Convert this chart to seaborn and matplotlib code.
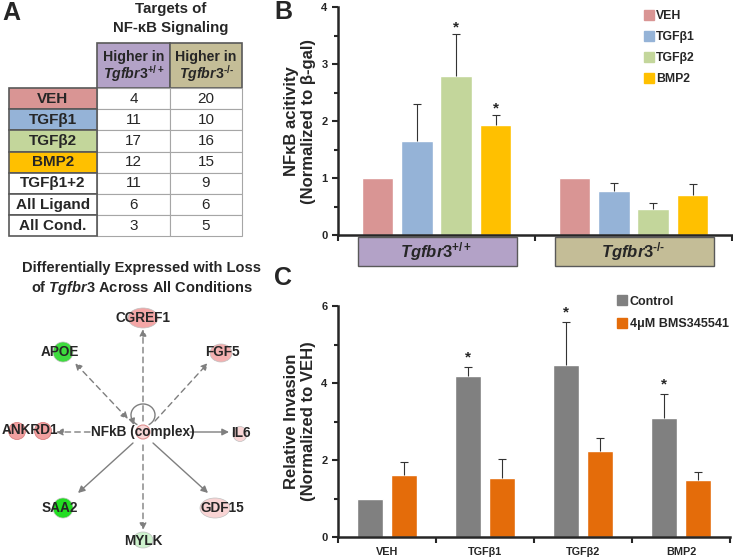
import matplotlib
matplotlib.use('Agg')
import matplotlib.pyplot as plt
from matplotlib.patches import Rectangle, Ellipse, Circle, Arc
from matplotlib.lines import Line2D
from matplotlib.transforms import blended_transform_factory
import numpy as np
import pandas as pd
import seaborn as sns

# ---- data ----
treatments = ['VEH', 'TGFβ1', 'TGFβ2', 'BMP2']
treatment_colors = ['#D99594', '#95B3D7', '#C3D69B', '#FFC000']
genotype_labels = [r'$\mathit{Tgfbr3}^{+/+}$', r'$\mathit{Tgfbr3}^{\text{-/-}}$']
genotype_colors = ['#B3A2C7', '#C4BD97']

# panel A: table of NF-kB targets
table_rows = ['VEH', 'TGFβ1', 'TGFβ2', 'BMP2', 'TGFβ1+2', 'All Ligand', 'All Cond.']
table_row_colors = treatment_colors + ['white', 'white', 'white']
higher_in_wt = [4, 11, 17, 12, 11, 6, 3]
higher_in_ko = [20, 10, 16, 15, 9, 6, 5]

# panel A: network around NFkB (complex)
network_genes = ['CGREF1', 'APOE', 'FGF5', 'ANKRD1', 'IL6', 'SAA2', 'GDF15', 'MYLK']
network_colors = ['#F4A6A6', '#3EDC3E', '#F4B0B0', '#F2A0A0', '#FAD6D6', '#22DD22', '#F9D4D4', '#CDF2CD']
network_dashed = [True, True, True, True, False, False, False, True]
network_both_ways = [False, True, False, False, False, False, False, False]

# panel B: NFkB reporter activity
nfkb_wt = [1.0, 1.65, 2.79, 1.93]
nfkb_wt_err = [0, 0.65, 0.74, 0.17]
nfkb_ko = [1.0, 0.78, 0.45, 0.70]
nfkb_ko_err = [0, 0.14, 0.11, 0.20]
nfkb_wt_sig = [False, False, True, True]
nfkb_ko_sig = [False, False, False, False]

# panel C: invasion
inv_conditions = ['Control', '4μM BMS345541']
inv_colors = ['#808080', '#E46C0A']
inv_control = [1.0, 4.17, 4.48, 3.10]
inv_control_err = [0, 0.24, 1.11, 0.62]
inv_bms = [1.61, 1.54, 2.24, 1.49]
inv_bms_err = [0.34, 0.49, 0.33, 0.20]
inv_control_sig = [False, True, True, True]
inv_bms_sig = [False, False, False, False]

W, H = 733, 560

sns.set_style('ticks')
plt.rcParams['font.family'] = ['Liberation Sans', 'DejaVu Sans']
plt.rcParams['font.weight'] = 'bold'
plt.rcParams['axes.labelweight'] = 'bold'
plt.rcParams['mathtext.fontset'] = 'custom'
plt.rcParams['mathtext.it'] = 'Liberation Sans:italic:bold'
plt.rcParams['mathtext.rm'] = 'Liberation Sans:bold'
plt.rcParams['mathtext.bf'] = 'Liberation Sans:bold'
plt.rcParams['mathtext.sf'] = 'Liberation Sans:bold'


def fig_rect(x0, y0, x1, y1):
    """pixel box (top-left origin) -> figure fraction rect"""
    return [x0 / W, 1 - y1 / H, (x1 - x0) / W, (y1 - y0) / H]


def add_errors(ax, errs_by_hue, sig_by_hue, star_pad):
    """upper-only error bars + asterisks on top of seaborn bars"""
    for container, errs, sigs in zip(ax.containers, errs_by_hue, sig_by_hue):
        for bar, err, sig in zip(container, errs, sigs):
            cx = bar.get_x() + bar.get_width() / 2
            top = bar.get_height()
            if err > 0:
                ax.vlines(cx, top, top + err, color='#333333', lw=0.8)
                ax.plot(cx, top + err, marker='_', ms=6, mew=0.8, color='#333333')
            if sig:
                ax.annotate('*', xy=(cx, top + err), xytext=(0, star_pad),
                            textcoords='offset points', ha='center', va='baseline',
                            fontsize=11, fontweight='bold')


def style_axis(ax):
    sns.despine(ax=ax)
    for s in ['left', 'bottom']:
        ax.spines[s].set_linewidth(1.8)
    ax.tick_params(which='both', direction='out', width=1.5, labelsize=8)
    ax.tick_params(which='major', length=4)
    ax.tick_params(which='minor', length=3)
    for lab in ax.get_yticklabels() + ax.get_xticklabels():
        lab.set_fontweight('bold')


fig = plt.figure(figsize=(W / 100, H / 100), dpi=100)

# ---- overlay for panel A and letters ----
ov = fig.add_axes([0, 0, 1, 1])
ov.set_xlim(0, W)
ov.set_ylim(H, 0)
ov.axis('off')

ov.text(11, 13, 'A', fontsize=18, fontweight='bold', ha='center', va='center')
ov.text(283, 12, 'B', fontsize=18, fontweight='bold', ha='center', va='center')
ov.text(283, 278, 'C', fontsize=18, fontweight='bold', ha='center', va='center')

ov.text(171, 9, 'Targets of', fontsize=10.8, ha='center', va='center')
ov.text(171, 28, 'NF-κB Signaling', fontsize=10.8, ha='center', va='center')

# table
col_x = [9, 97, 170, 242]
head_top, head_bot, row_h = 43, 88, 21.2
for k in range(2):
    x0, x1 = col_x[k + 1], col_x[k + 2]
    ov.add_patch(Rectangle((x0, head_top), x1 - x0, head_bot - head_top,
                           fc=genotype_colors[k], ec='#595959', lw=1.2))
    ov.text((x0 + x1) / 2, 57, 'Higher in', fontsize=10.2, ha='center', va='center')
    ov.text((x0 + x1) / 2, 74, genotype_labels[k], fontsize=10.2, ha='center', va='center')

for i, (name, c, a, b) in enumerate(zip(table_rows, table_row_colors, higher_in_wt, higher_in_ko)):
    y0 = head_bot + i * row_h
    yc = y0 + row_h / 2
    for k, v in enumerate([a, b]):
        x0, x1 = col_x[k + 1], col_x[k + 2]
        ov.add_patch(Rectangle((x0, y0), x1 - x0, row_h, fc='white', ec='#A6A6A6', lw=0.8))
        ov.text((x0 + x1) / 2, yc, str(v), fontsize=11, fontweight='normal',
                ha='center', va='center')
for i, (name, c) in enumerate(zip(table_rows, table_row_colors)):
    y0 = head_bot + i * row_h
    ov.add_patch(Rectangle((col_x[0], y0), col_x[1] - col_x[0], row_h,
                           fc=c, ec='#595959', lw=1.2))
    ov.text((col_x[0] + col_x[1]) / 2, y0 + row_h / 2, name, fontsize=11,
            ha='center', va='center')

# network
ov.text(142, 268, 'Differentially Expressed with Loss', fontsize=10.5, ha='center', va='center')
ov.text(142, 288, r'of $\mathit{Tgfbr3}$ Across All Conditions', fontsize=10.5,
        ha='center', va='center')

center = (143, 432)
node_pos = [(143, 318), (63, 352), (221, 353), (30, 431), (240, 434),
            (63, 508), (215, 508), (143, 540)]
node_size = [(30, 20), (20, 20), (22, 18), (52, 17), (14, 15), (20, 20), (30, 20), (20, 16)]
label_pos = [(143, 318), (60, 352), (222, 352), (30, 430), (241, 433),
             (60, 508), (222, 508), (143, 541)]
edge_start = [(143, 421), (128, 419), (155, 421), (90, 432), (190, 432),
              (133, 443), (153, 443), (143, 445)]
edge_end = [(143, 329), (75, 363), (208, 363), (56, 432), (229, 432),
            (78, 493), (208, 493), (143, 530)]

for gene, col, pos, size in zip(network_genes, network_colors, node_pos, node_size):
    if gene == 'ANKRD1':
        r = size[1] / 2
        for dx in (-13, 13):
            ov.add_patch(Circle((pos[0] + dx, pos[1]), r, fc=col, ec='#D98080', lw=0.6))
    else:
        ov.add_patch(Ellipse(pos, size[0], size[1], fc=col, ec='#C0C0C0', lw=0.5))

for st, en, dashed, both in zip(edge_start, edge_end, network_dashed, network_both_ways):
    style = '<|-|>' if both else '-|>'
    ov.annotate('', xy=en, xytext=st,
                arrowprops=dict(arrowstyle=style, color='#7F7F7F', lw=1.0,
                                linestyle=(0, (4, 3)) if dashed else '-',
                                mutation_scale=10, shrinkA=0, shrinkB=0))

ov.add_patch(Arc((143, 415), 24, 22, theta1=120, theta2=60, color='#7F7F7F', lw=1.0))
ov.annotate('', xy=(134, 425), xytext=(132, 419),
            arrowprops=dict(arrowstyle='-|>', color='#7F7F7F', lw=1.0,
                            mutation_scale=9, shrinkA=0, shrinkB=0))
ov.add_patch(Circle(center, 7, fc='#F8D8D8', ec='#E09090', lw=0.8))
ov.text(center[0], center[1], 'NFkB (complex)', fontsize=9.8, ha='center', va='center')

for gene, pos in zip(network_genes, label_pos):
    ov.text(pos[0], pos[1], gene, fontsize=9.8, ha='center', va='center')

# ---- panel B ----
axB = fig.add_axes(fig_rect(338, 7, 732, 235))
df_b = pd.DataFrame({
    'genotype': np.repeat(['wt', 'ko'], len(treatments)),
    'treatment': treatments * 2,
    'value': nfkb_wt + nfkb_ko,
})
sns.barplot(data=df_b, x='genotype', y='value', hue='treatment', hue_order=treatments,
            palette=treatment_colors, width=0.8, gap=0.2, errorbar=None,
            saturation=1, legend=False, ax=axB)
err_b = [[w, k] for w, k in zip(nfkb_wt_err, nfkb_ko_err)]
sig_b = [[w, k] for w, k in zip(nfkb_wt_sig, nfkb_ko_sig)]
add_errors(axB, err_b, sig_b, 2)
axB.set_xlim(-0.5, 1.5)
axB.set_ylim(0, 4)
axB.set_yticks([0, 1, 2, 3, 4])
axB.set_yticks(np.arange(0.5, 4, 1), minor=True)
axB.set_xticks([-0.5, 0.5, 1.5])
axB.set_xticklabels([])
axB.set_xlabel('')
axB.set_ylabel('NFκB acitivity\n(Normalized to β-gal)', fontsize=12, labelpad=4,
               linespacing=1.15)
style_axis(axB)

trans = blended_transform_factory(axB.transData, axB.transAxes)
for g, (lab, col) in enumerate(zip(genotype_labels, genotype_colors)):
    axB.add_patch(Rectangle((g - 0.4, -0.136), 0.81, 0.126, transform=trans,
                            fc=col, ec='#595959', lw=1.0, clip_on=False))
    axB.text(g, -0.073, lab, transform=trans, fontsize=12, ha='center', va='center')

handles_b = [Line2D([], [], marker='s', ls='', color=c, markersize=6.5) for c in treatment_colors]
axB.legend(handles_b, treatments, loc='upper left', bbox_to_anchor=(0.78, 0.985),
           frameon=False, fontsize=8.8, handlelength=0.6, handletextpad=0.3,
           labelspacing=0.72, borderpad=0, borderaxespad=0)

# ---- panel C ----
axC = fig.add_axes(fig_rect(338, 306, 730, 537))
df_c = pd.DataFrame({
    'treatment': treatments * 2,
    'condition': np.repeat(inv_conditions, len(treatments)),
    'value': inv_control + inv_bms,
})
sns.barplot(data=df_c, x='treatment', y='value', hue='condition', hue_order=inv_conditions,
            palette=inv_colors, width=0.68, gap=0.22, errorbar=None,
            saturation=1, legend=False, ax=axC)
add_errors(axC, [inv_control_err, inv_bms_err], [inv_control_sig, inv_bms_sig], 4)
axC.set_xlim(-0.5, 3.5)
axC.set_ylim(0, 6)
axC.set_yticks([0, 2, 4, 6])
axC.set_yticks([1, 3, 5], minor=True)
axC.set_xticks(range(len(treatments)))
axC.set_xticklabels(treatments)
axC.set_xticks(np.arange(-0.5, 4, 1), minor=True)
axC.set_xlabel('')
axC.set_ylabel('Relative Invasion\n(Normalized to VEH)', fontsize=12, labelpad=4,
               linespacing=1.15)
style_axis(axC)
axC.tick_params(axis='x', which='major', length=0, pad=7, labelsize=7.8)
axC.tick_params(axis='x', which='minor', length=4, width=1.5)

handles_c = [Line2D([], [], marker='s', ls='', color=c, markersize=6.5) for c in inv_colors]
axC.legend(handles_c, inv_conditions, loc='upper left', bbox_to_anchor=(0.715, 1.045),
           frameon=False, fontsize=9, handlelength=0.6, handletextpad=0.3,
           labelspacing=0.85, borderpad=0, borderaxespad=0)

fig.savefig('out.png', dpi=100)
